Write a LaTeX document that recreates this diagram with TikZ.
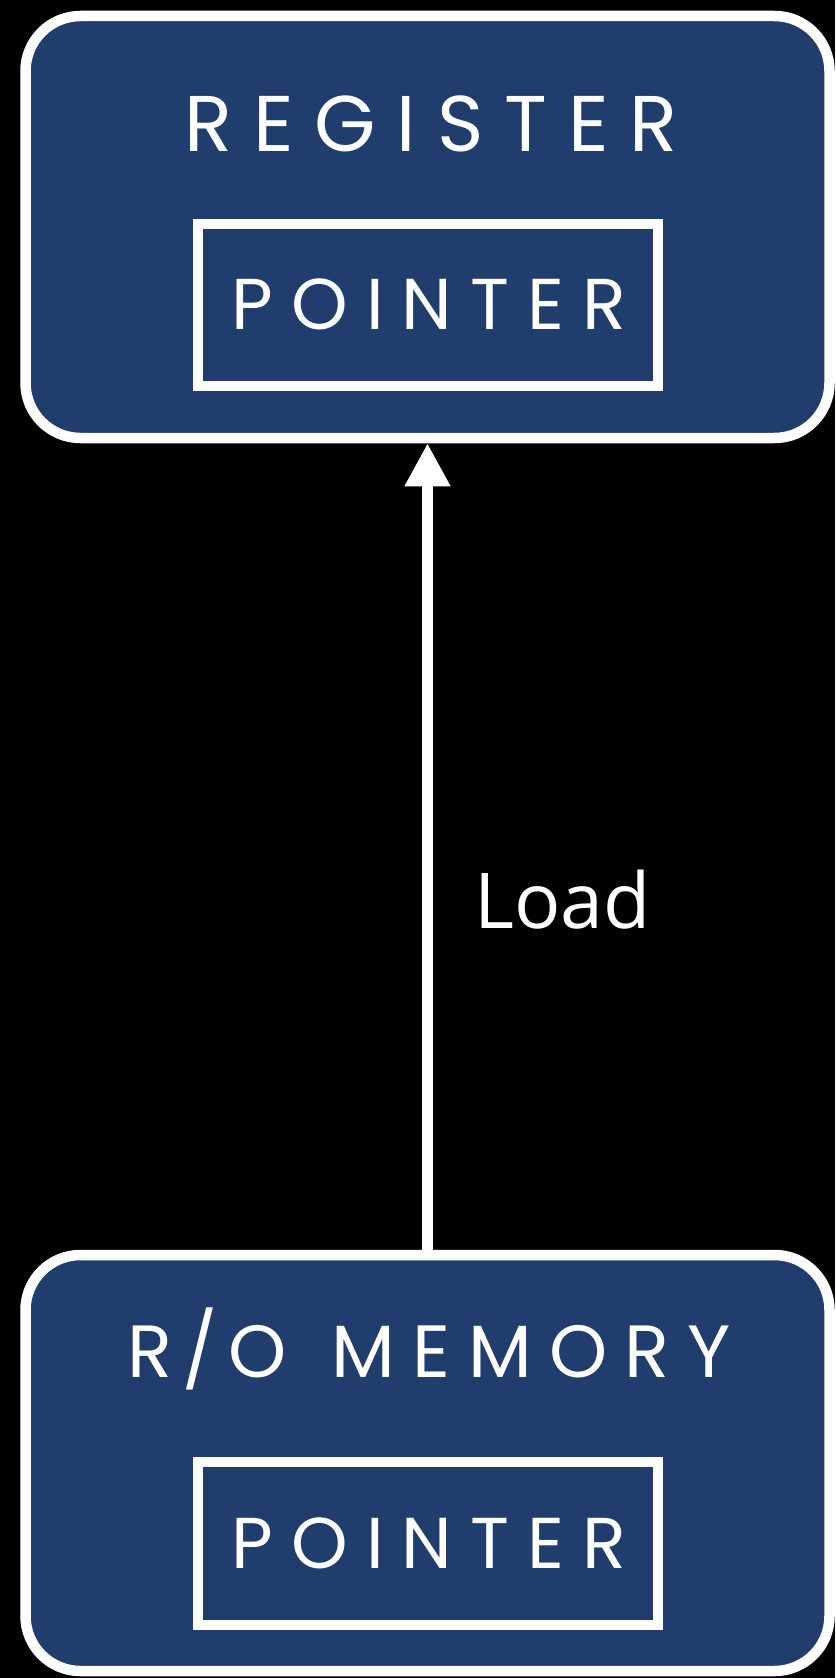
\documentclass[tikz,border=0pt]{standalone}
\usepackage{fontspec}
\setmainfont{Open Sans}
\newfontfamily\capsfont[LetterSpace=25]{Poppins}
\newfontfamily\regfont[LetterSpace=26.5]{Poppins}
\newfontfamily\memfont[LetterSpace=23.5]{Poppins}
\newfontfamily\slashfont[LetterSpace=14]{Poppins}
\newfontfamily\labelfont{Open Sans}
\usetikzlibrary{arrows.meta}
\definecolor{navy}{RGB}{32,61,110}
\tikzset{
  outerbox/.style={draw=white, fill=navy, line width=10.5pt, rounded corners=55pt,
    minimum width=804pt, inner sep=0pt},
  ptrbox/.style={draw=white, line width=10pt, minimum width=460pt, minimum height=162.5pt, inner sep=0pt},
  captext/.style={text=white, anchor=base, inner sep=0pt},
  loadarrow/.style={draw=white, line width=10.5pt, -{Triangle[width=43pt,length=43pt]}},
}
\begin{document}
\begin{tikzpicture}[x=1pt,y=-1pt]
\fill[black] (0,0) rectangle (835,1678);
\useasboundingbox (0,0) rectangle (835,1678);
% boxes
\node[outerbox, minimum height=422pt] (reg) at (427.5,227) {};
\node[outerbox, minimum height=416pt] (mem) at (427.5,1463) {};
\node[ptrbox] (regptr) at (428,305) {};
\node[ptrbox] (memptr) at (428,1543.5) {};
% texts
\node[captext, font=\regfont\fontsize{79}{79}\selectfont] (regtxt) at (431,151) {REGISTER};
\node[captext, font=\capsfont\fontsize{72}{72}\selectfont] (regptrtxt) at (429,329) {POINTER};
\node[captext, font=\fontsize{74}{74}\selectfont] (memtxt) at (429,1377) {{\slashfont R/O}\hspace{45pt}{\memfont MEMORY}};
\node[captext, font=\capsfont\fontsize{72}{72}\selectfont] (memptrtxt) at (429,1568) {POINTER};
% arrow
\draw[loadarrow] (mem.north) -- (reg.south);
\node[text=white, anchor=base west, inner sep=0pt, font=\labelfont\fontsize{77}{77}\selectfont] (load) at (474,928) {Load};
\end{tikzpicture}
\end{document}
